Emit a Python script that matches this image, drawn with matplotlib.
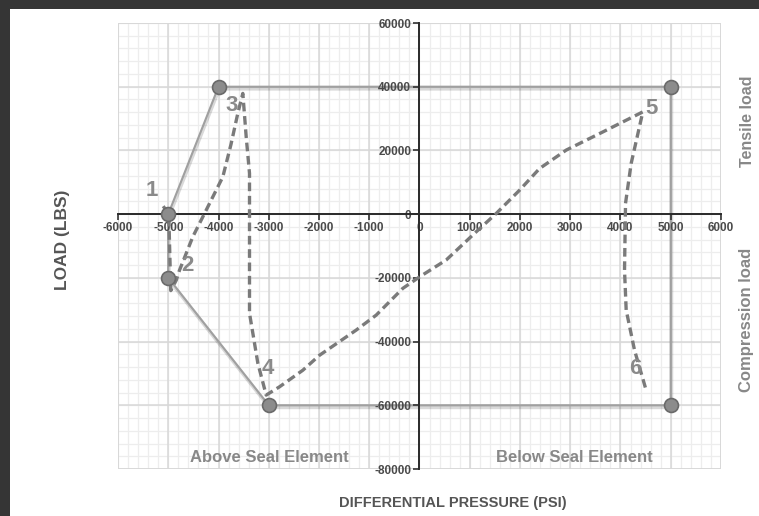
import matplotlib
matplotlib.use("Agg")
import matplotlib.pyplot as plt
import matplotlib.patheffects as pe
from matplotlib.patches import Rectangle
import numpy as np

plt.rcParams['font.family'] = ['Liberation Sans', 'DejaVu Sans']

# Envelope (solid line with markers)
env_x = [-5000, -4000, 5000, 5000, -3000, -5000, -5000]
env_y = [0, 40000, 40000, -60000, -60000, -20000, 0]
marker_x = [-5000, -4000, 5000, 5000, -3000, -5000]
marker_y = [0, 40000, 40000, -60000, -60000, -20000]

# Dashed load path
path_x = [-5100, -4990, -4970, -4950, -4840, -4776, -4511, -4245, -3914, -3750,
          -3615, -3516, -3449, -3383, -3383, -3383, -3217, -3051, -2786, -2322,
          -1990, -1260, -862, -332, 0, 531, 1128, 1526, 1990, 2388,
          2919, 3648, 4179, 4444, 4212, 4100, 4080, 4113, 4279, 4511]
path_y = [2500, 0, -12000, -24000, -20700, -17600, -7100, 1260, 11700, 22000,
          31700, 37900, 24300, 12800, -10000, -31100, -46800, -56800, -54200, -49000,
          -44300, -36400, -31700, -23300, -19700, -14400, -5550, 200, 7500, 14300,
          20100, 25800, 30000, 32100, 15900, 3400, -17600, -30100, -42700, -55300]

# Point labels
pt_labels = ["1", "2", "3", "4", "5", "6"]
pt_lx = [-5330, -4620, -3740, -3020, 4620, 4300]
pt_ly = [7500, -16000, 34200, -48400, 33300, -48400]

x_ticks = [-6000, -5000, -4000, -3000, -2000, -1000, 0, 1000, 2000, 3000, 4000, 5000, 6000]
y_ticks = [60000, 40000, 20000, 0, -20000, -40000, -60000, -80000]

W, H = 759, 516
fig = plt.figure(figsize=(W / 100, H / 100), dpi=100, facecolor="#353535")
# white panel (background axes)
bg = fig.add_axes([10 / W, 0, 1 - 10 / W, 1 - 9 / H], zorder=-10)
bg.set_facecolor("white")
bg.set_xticks([])
bg.set_yticks([])
for s in bg.spines.values():
    s.set_visible(False)

ax = fig.add_axes([118 / W, 1 - 469 / H, 603 / W, 446 / H], zorder=1)
ax.set_facecolor("none")
ax.set_xlim(-6000, 6000)
ax.set_ylim(-80000, 60000)

# grid drawn manually so it stays beneath tick labels
xmin, xmax = x_ticks[0], x_ticks[-1]
ymin, ymax = min(y_ticks), max(y_ticks)
minor_x = np.arange(xmin, xmax + 1, 200)
minor_y = np.arange(ymin, ymax + 1, 4000)
ax.vlines(minor_x, ymin, ymax, colors="#ededed", lw=0.9, zorder=0.1)
ax.hlines(minor_y, xmin, xmax, colors="#ededed", lw=0.9, zorder=0.1)
ax.vlines(x_ticks, ymin, ymax, colors="#d8d8d8", lw=1.1, zorder=0.2)
ax.hlines(y_ticks, xmin, xmax, colors="#d8d8d8", lw=1.1, zorder=0.2)
ax.add_patch(Rectangle((xmin, ymin), xmax - xmin, ymax - ymin, fill=False,
                       edgecolor="#d8d8d8", lw=1.2, zorder=0.3))

for s in ["top", "right"]:
    ax.spines[s].set_visible(False)
ax.spines["left"].set_position(("data", 0))
ax.spines["bottom"].set_position(("data", 0))
for s in ["left", "bottom"]:
    ax.spines[s].set_color("#2a2a2a")
    ax.spines[s].set_linewidth(1.4)
    ax.spines[s].set_zorder(2.6)
ax.xaxis.set_zorder(2.5)
ax.yaxis.set_zorder(2.5)

ax.set_xticks(x_ticks)
ax.set_yticks(y_ticks)
ax.set_xticklabels([str(v) for v in x_ticks])
ax.set_yticklabels([str(v) for v in y_ticks])
ax.tick_params(axis="both", which="major", length=4, width=1.2, color="#333333",
               labelsize=8.5, labelcolor="#4a4a4a", pad=2)
for lab in ax.get_xticklabels() + ax.get_yticklabels():
    lab.set_fontweight("bold")

shadow = [pe.SimpleLineShadow(offset=(0.5, -1.5), shadow_color="#000000", alpha=0.15, linewidth=2.6), pe.Normal()]
ax.plot(env_x, env_y, color="#a0a0a0", lw=1.5, zorder=2, path_effects=shadow,
        solid_joinstyle="round")
ax.plot(marker_x, marker_y, linestyle="none", marker="o", markersize=10,
        markerfacecolor="#8c8c8c", markeredgecolor="#6a6a6a", markeredgewidth=1.2, zorder=5)

ax.plot(path_x, path_y, color="#7a7a7a", lw=2.4, linestyle=(0, (2.6, 1.4)), zorder=4)

for t, lx, ly in zip(pt_labels, pt_lx, pt_ly):
    ax.text(lx, ly, t, fontsize=16, fontweight="bold", color="#8a8a8a",
            ha="center", va="center", zorder=6)

ax.text(-2990, -76300, "Above Seal Element", fontsize=12, fontweight="bold",
        color="#888888", ha="center", va="center", zorder=6)
ax.text(3085, -76300, "Below Seal Element", fontsize=12, fontweight="bold",
        color="#888888", ha="center", va="center", zorder=6)

fig.text(62 / W, 1 - 240 / H, "LOAD (LBS)", rotation=90, fontsize=12.5, fontweight="bold",
         color="#555555", ha="center", va="center")
fig.text(453 / W, 1 - 503 / H, "DIFFERENTIAL PRESSURE (PSI)", fontsize=10.5, fontweight="bold",
         color="#555555", ha="center", va="center")
fig.text(747 / W, 1 - 121 / H, "Tensile load", rotation=90, fontsize=11.5, fontweight="bold",
         color="#888888", ha="center", va="center")
fig.text(747 / W, 1 - 320 / H, "Compression load", rotation=90, fontsize=12, fontweight="bold",
         color="#888888", ha="center", va="center")

fig.savefig("out.png", dpi=100, facecolor=fig.get_facecolor())
